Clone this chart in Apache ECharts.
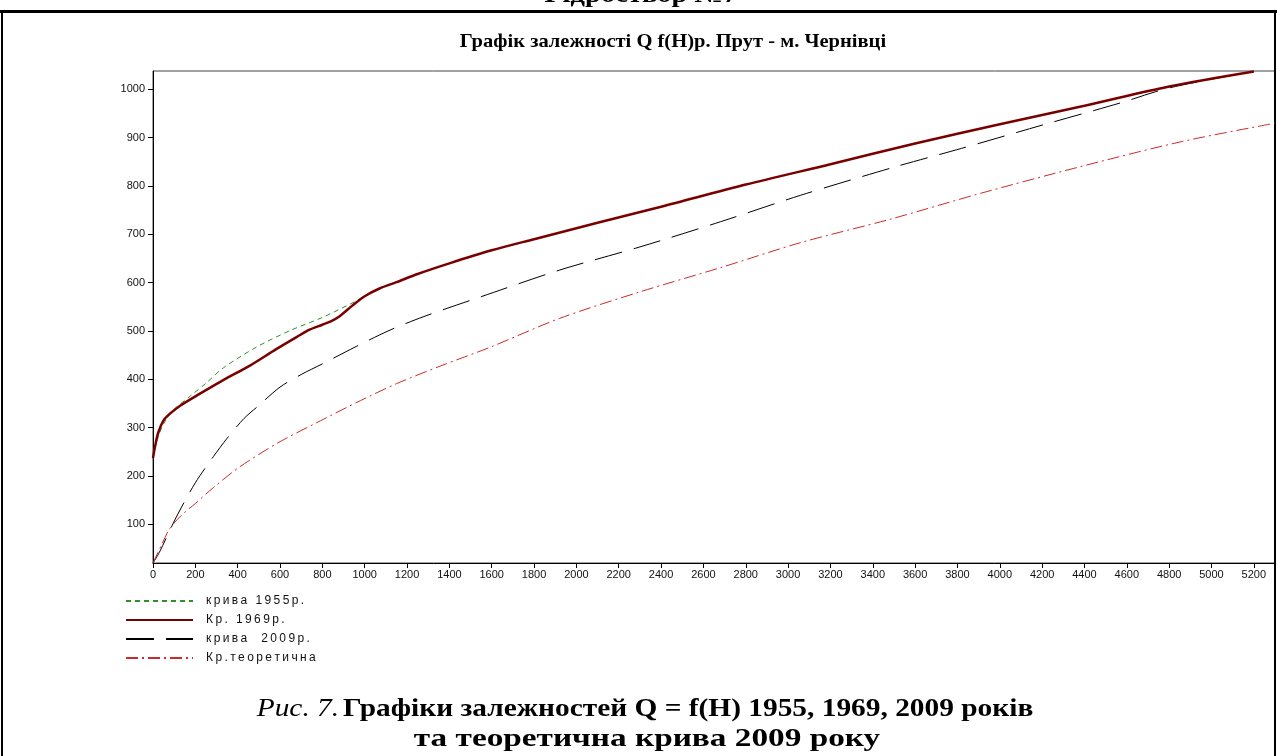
<!DOCTYPE html>
<html>
<head>
<meta charset="utf-8">
<title>Графік залежності Q f(H)</title>
<script src="https://cdn.jsdelivr.net/npm/echarts@6/dist/echarts.min.js"></script>
<style>
  html, body { margin: 0; padding: 0; background: #fff; }
  #chart { width: 1277px; height: 756px; }
</style>
</head>
<body>
<div id="chart"></div>
<script>
// H (cm) and Q (m3/s)
var h1955 = [0, 20, 50, 100, 175, 250, 333, 490, 648, 805, 963, 1060, 1150];
var q1955 = [236, 275, 308, 338, 365, 392, 424, 467, 501, 529, 563, 586, 601];

var h1969 = [0, 10, 25, 50, 80, 130, 220, 330, 460, 580, 680, 740, 800, 840, 880, 940, 1000, 1070, 1150, 1250, 1400, 1600, 1800, 2100, 2400, 2800, 3200, 3600, 4000, 4400, 4800, 5200];
var q1969 = [237, 262, 290, 315, 329, 346, 370, 398, 429, 462, 488, 503, 513, 520, 530, 552, 572, 588, 601, 618, 640, 667, 690, 724, 757, 803, 845, 888, 928, 966, 1006, 1037];

var h2009 = [0, 30, 110, 200, 285, 350, 430, 500, 600, 700, 800, 960, 1120, 1280, 1550, 1920, 2300, 2680, 3060, 3500, 3820, 4200, 4570, 4800, 5200];
var q2009 = [20, 42, 115, 186, 240, 278, 319, 346, 384, 410, 432, 468, 502, 530, 571, 626, 674, 726, 781, 839, 878, 926, 972, 1003, 1037];

var hTheory = [0, 40, 80, 140, 200, 285, 410, 600, 790, 980, 1150, 1360, 1590, 1920, 2300, 2680, 3060, 3480, 3910, 4380, 4860, 5300];
var qTheory = [20, 57, 92, 121, 143, 176, 219, 271, 314, 356, 391, 428, 466, 526, 581, 631, 683, 731, 785, 840, 892, 930];

var xTicks = [0, 200, 400, 600, 800, 1000, 1200, 1400, 1600, 1800, 2000, 2200, 2400, 2600, 2800, 3000, 3200, 3400, 3600, 3800, 4000, 4200, 4400, 4600, 4800, 5000, 5200];
var yTicks = [100, 200, 300, 400, 500, 600, 700, 800, 900, 1000];

var names = ['крива 1955р.', 'Кр. 1969р.', 'крива  2009р.', 'Кр.теоретична'];

function pairs(xs, ys) {
  return xs.map(function (x, i) { return [x, ys[i]]; });
}

var chart = echarts.init(document.getElementById('chart'));

var sansFont = '"Liberation Sans", Arial, sans-serif';
var serifFont = '"Liberation Serif", "Times New Roman", serif';

chart.setOption({
  backgroundColor: '#ffffff',
  animation: false,
  legend: {
    data: names,
    orient: 'vertical',
    left: 125,
    top: 595,
    padding: 0,
    itemWidth: 67,
    itemHeight: 14,
    itemGap: 7,
    itemStyle: { opacity: 0 },
    formatter: function (name) { return name.split('').join('\u2009'); },
    textStyle: { fontFamily: sansFont, fontSize: 12, color: '#111', padding: [0, 0, 0, 8] }
  },
  grid: {
    left: 153,
    right: 2,
    top: 71,
    bottom: 193,
    show: true,
    borderColor: '#444',
    borderWidth: 1
  },
  xAxis: {
    type: 'value',
    min: 0,
    max: 5300,
    axisLine: { show: true, lineStyle: { color: '#000', width: 1 } },
    axisTick: { show: true, length: 5, lineStyle: { color: '#000' }, customValues: xTicks },
    axisLabel: {
      fontFamily: sansFont, fontSize: 11, color: '#111', margin: 6, customValues: xTicks,
      formatter: function (v) { return String(v); }
    },
    splitLine: { show: false }
  },
  yAxis: {
    type: 'value',
    min: 20,
    max: 1038,
    axisLine: { show: true, lineStyle: { color: '#000', width: 1 } },
    axisTick: { show: true, length: 5, lineStyle: { color: '#000' }, customValues: yTicks },
    axisLabel: {
      fontFamily: sansFont, fontSize: 11, color: '#111', margin: 8, customValues: yTicks,
      formatter: function (v) { return String(v); }
    },
    splitLine: { show: false }
  },
  series: [
    {
      name: names[2],
      type: 'line',
      data: pairs(h2009, q2009),
      smooth: 0.3,
      symbol: 'none',
      z: 2,
      lineStyle: { color: '#000', width: 1, type: [28, 12] },
      itemStyle: { color: '#000' }
    },
    {
      name: names[3],
      type: 'line',
      data: pairs(hTheory, qTheory),
      smooth: 0.3,
      symbol: 'none',
      z: 2,
      lineStyle: { color: '#cc2a2a', width: 1, type: [12, 4, 2, 4] },
      itemStyle: { color: '#cc2a2a' }
    },
    {
      name: names[0],
      type: 'line',
      data: pairs(h1955, q1955),
      smooth: 0.3,
      symbol: 'none',
      z: 3,
      lineStyle: { color: '#2f8f2f', width: 1, type: [5, 4] },
      itemStyle: { color: '#2f8f2f' }
    },
    {
      name: names[1],
      type: 'line',
      data: pairs(h1969, q1969),
      smooth: 0.3,
      symbol: 'none',
      z: 4,
      lineStyle: { color: '#7a0000', width: 2.5 },
      itemStyle: { color: '#7a0000' }
    }
  ],
  graphic: [
    // page frame of the document table
    { type: 'rect', shape: { x: 0, y: 10, width: 1277, height: 3 }, style: { fill: '#000' } },
    { type: 'rect', shape: { x: 1, y: 10, width: 2, height: 746 }, style: { fill: '#000' } },
    { type: 'rect', shape: { x: 1274, y: 10, width: 2, height: 746 }, style: { fill: '#000' } },
    {
      type: 'text', x: 641, y: -5, scaleX: 1.1,
      style: { text: 'Гідроствор №7', align: 'center', verticalAlign: 'middle', font: 'bold 26px ' + serifFont, fill: '#000' }
    },
    {
      type: 'text', x: 673, y: 42, scaleX: 1.08,
      style: {
        text: 'Графік залежності Q f(H)р. Прут - м. Чернівці',
        align: 'center', verticalAlign: 'middle',
        font: 'bold 19px ' + serifFont, fill: '#000'
      }
    },
    {
      type: 'text', x: 645, y: 709, scaleX: 1.13,
      style: {
        text: '{i|Рис. 7.} {b|Графіки залежностей Q = f(H) 1955, 1969, 2009 років}',
        align: 'center', verticalAlign: 'middle',
        rich: {
          i: { font: 'italic 26px ' + serifFont, fill: '#000' },
          b: { font: 'bold 26px ' + serifFont, fill: '#000' }
        }
      }
    },
    {
      type: 'text', x: 647, y: 739, scaleX: 1.28,
      style: {
        text: 'та теоретична крива 2009 року',
        align: 'center', verticalAlign: 'middle',
        font: 'bold 26px ' + serifFont, fill: '#000'
      }
    }
  ]
});
</script>
</body>
</html>
